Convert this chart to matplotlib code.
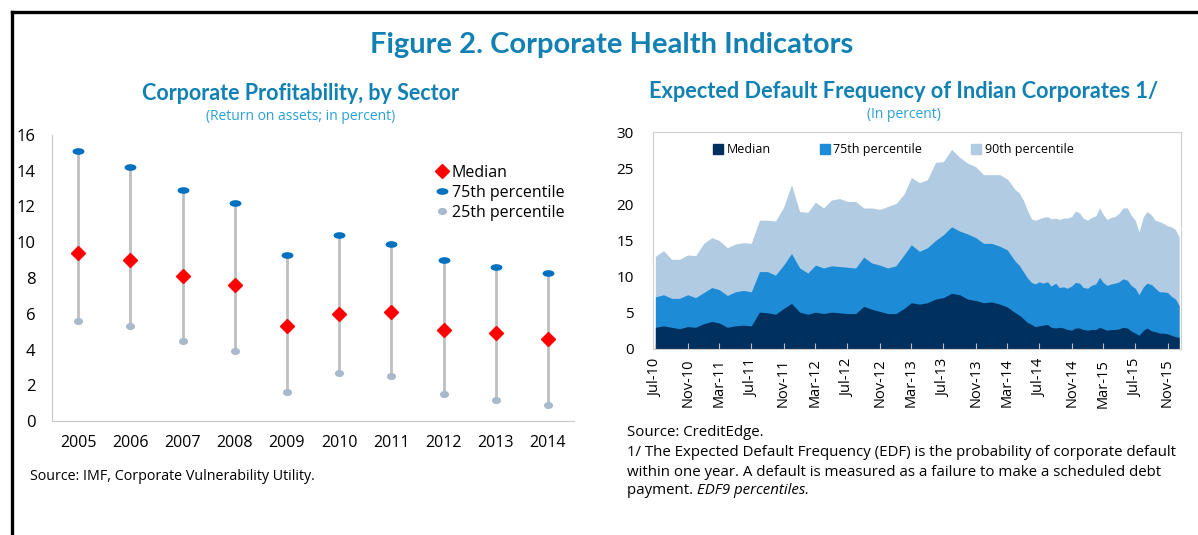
import matplotlib
matplotlib.use("Agg")
import matplotlib.pyplot as plt
import matplotlib.dates as mdates
from matplotlib.lines import Line2D
from matplotlib.patches import Patch
from matplotlib.path import Path
from matplotlib.transforms import Affine2D
import pandas as pd
import datetime as dt

plt.rcParams["font.family"] = ["Open Sans", "DejaVu Sans"]

# left panel: return on assets by year
years = ["2005", "2006", "2007", "2008", "2009", "2010", "2011", "2012", "2013", "2014"]
roa_median = [9.4, 9.0, 8.1, 7.6, 5.3, 6.0, 6.1, 5.1, 4.9, 4.6]
roa_p75 = [15.1, 14.2, 12.9, 12.2, 9.3, 10.4, 9.9, 9.0, 8.6, 8.3]
roa_p25 = [5.6, 5.3, 4.5, 3.9, 1.6, 2.7, 2.5, 1.5, 1.2, 0.9]

# right panel: EDF, monthly Jul-10 .. Apr-14, then twice a month to Dec-15
edf_monthly_dates = pd.date_range("2010-07-01", periods=46, freq="MS")
edf_monthly_median = [3.0, 3.2, 3.0, 2.8, 3.1, 3.0, 3.5, 3.8, 3.6, 3.0, 3.2, 3.3, 3.2,
                      5.1, 5.0, 4.8, 5.6, 6.3, 5.1, 4.8, 5.1, 4.9, 5.1, 5.0, 4.9, 4.9,
                      5.9, 5.5, 5.2, 4.9, 4.9, 5.6, 6.4, 6.2, 6.4, 6.9, 7.1, 7.7, 7.5,
                      6.9, 6.7, 6.4, 6.5, 6.2, 5.8, 5.0]
edf_monthly_p75 = [7.2, 7.5, 7.0, 7.0, 7.5, 7.1, 7.8, 8.5, 8.2, 7.4, 7.9, 8.1, 7.9,
                   10.7, 10.7, 10.2, 11.6, 13.2, 11.2, 10.5, 11.6, 11.2, 11.5, 11.4, 11.3, 11.2,
                   12.7, 11.9, 11.6, 11.2, 11.5, 13.0, 14.4, 13.5, 14.0, 15.0, 15.8, 16.9, 16.3,
                   15.9, 15.4, 14.6, 14.6, 14.2, 13.7, 12.1]
edf_monthly_p90 = [12.8, 13.6, 12.4, 12.4, 13.0, 12.9, 14.6, 15.4, 15.0, 14.0, 14.5, 14.7, 14.6,
                   17.8, 17.8, 17.7, 19.6, 22.7, 19.0, 18.9, 20.3, 19.5, 20.6, 20.8, 20.4, 20.4,
                   19.5, 19.5, 19.3, 19.7, 20.1, 21.4, 23.7, 23.0, 23.4, 25.8, 25.9, 27.6, 26.5,
                   25.7, 25.2, 24.1, 24.1, 24.1, 23.5, 22.0]

edf_semi_dates = pd.date_range("2014-04-15", periods=41, freq="SMS")
edf_semi_median = [4.7, 4.2, 3.7, 3.4, 3.1, 3.2, 3.3, 3.4, 3.0, 2.9, 3.0, 2.9, 2.7, 2.6,
                   2.9, 2.9, 2.7, 2.6, 2.7, 2.7, 3.0, 2.8, 2.6, 2.7, 2.7, 2.8, 3.0, 2.9,
                   2.5, 2.2, 1.9, 2.6, 2.9, 2.5, 2.4, 2.2, 2.2, 2.1, 1.9, 1.7, 1.6]
edf_semi_p75 = [11.6, 10.7, 9.9, 9.2, 9.0, 9.3, 9.1, 9.3, 8.7, 9.1, 8.5, 8.6, 8.4, 8.7,
                9.2, 9.1, 8.5, 8.4, 8.8, 9.0, 9.9, 9.2, 8.8, 9.0, 9.1, 9.3, 9.7, 9.5,
                8.8, 8.4, 7.5, 8.6, 9.1, 8.9, 8.4, 7.9, 7.9, 7.8, 7.3, 6.9, 6.0]
edf_semi_p90 = [21.6, 20.6, 19.3, 18.0, 17.8, 18.0, 18.2, 18.3, 18.0, 18.1, 17.9, 18.1, 18.1, 18.3,
                19.1, 18.8, 18.1, 17.8, 18.2, 18.4, 19.5, 18.6, 17.9, 18.2, 18.3, 18.8, 19.5, 19.5,
                18.5, 17.8, 16.2, 18.3, 19.0, 18.5, 17.8, 17.6, 17.4, 17.0, 16.9, 16.5, 15.5]

TITLE_BLUE = "#1181b4"
SUB_BLUE = "#2aa0d8"
W, H = 1198, 535


def px(x, y):
    return x / W, 1 - y / H


def ellipse(ratio):
    return Path.unit_circle().transformed(Affine2D().scale(1.0, ratio))


fig = plt.figure(figsize=(W / 100, H / 100), dpi=100)

# page frame (top and left rules)
fig.add_artist(Line2D([12 / W, 1], [1 - 12 / H, 1 - 12 / H], color="black", lw=2.4))
fig.add_artist(Line2D([12 / W, 12 / W], [0, 1 - 12 / H], color="black", lw=2.4))

fig.text(*px(612, 45), "Figure 2. Corporate Health Indicators", ha="center", va="center",
         fontsize=21, fontweight="bold", color=TITLE_BLUE, family=["Lato", "DejaVu Sans"])

# ---- left panel
fig.text(*px(301, 94), "Corporate Profitability, by Sector", ha="center", va="center",
         fontsize=15.5, fontweight="bold", color=TITLE_BLUE, family=["Lato", "DejaVu Sans"])
fig.text(*px(301, 117), "(Return on assets; in percent)", ha="center", va="center",
         fontsize=10, color=SUB_BLUE)

ax1 = fig.add_axes([52 / W, 1 - 421 / H, (574 - 52) / W, (421 - 135) / H])
xs = list(range(len(years)))
ax1.vlines(xs, roa_p25, roa_p75, color="#bfbfbf", lw=2, zorder=1)
ax1.plot(xs, roa_median, ls="none", marker="D", ms=7.5, color="#ff0000", zorder=3, label="Median")
ax1.plot(xs, roa_p75, ls="none", marker=ellipse(0.5), ms=7.5, color="#0070c0", zorder=3,
         label="75th percentile")
ax1.plot(xs, roa_p25, ls="none", marker=ellipse(0.75), ms=5.5, color="#a9b9cc", zorder=3,
         label="25th percentile")
ax1.set_xlim(-0.5, len(years) - 0.5)
ax1.set_ylim(0, 16)
ax1.set_yticks(range(0, 17, 2))
ax1.set_xticks(xs)
ax1.set_xticklabels(years)
for side in ["top", "right"]:
    ax1.spines[side].set_visible(False)
for side in ["left", "bottom"]:
    ax1.spines[side].set_color("#c8c8c8")
ax1.tick_params(axis="y", length=0, pad=12, labelsize=12)
ax1.tick_params(axis="x", length=0, pad=10, labelsize=11.5)
ax1.legend(loc="upper right", bbox_to_anchor=(1.0, 0.93), frameon=False, fontsize=11.5,
           handletextpad=0.1, handlelength=1.0, labelspacing=0.25, borderaxespad=0.2)

fig.text(*px(30, 476), "Source: IMF, Corporate Vulnerability Utility.", ha="left", va="center",
         fontsize=10.3)

# ---- right panel
fig.text(*px(904, 91), "Expected Default Frequency of Indian Corporates 1/", ha="center",
         va="center", fontsize=15.7, fontweight="bold", color=TITLE_BLUE,
         family=["Lato", "DejaVu Sans"])
fig.text(*px(904, 114), "(In percent)", ha="center", va="center", fontsize=10, color=SUB_BLUE)

dates = list(edf_monthly_dates) + list(edf_semi_dates)
med = edf_monthly_median + edf_semi_median
p75 = edf_monthly_p75 + edf_semi_p75
p90 = edf_monthly_p90 + edf_semi_p90

c_med, c_75, c_90 = "#00305e", "#1d8bd6", "#b1cbe3"
ax2 = fig.add_axes([653 / W, 1 - 349 / H, (1181 - 653) / W, (349 - 132) / H])
ax2.fill_between(dates, 0, p90, color=c_90, lw=0)
ax2.fill_between(dates, 0, p75, color=c_75, lw=0)
ax2.fill_between(dates, 0, med, color=c_med, lw=0)
ax2.set_xlim(dt.date(2010, 6, 22), dt.date(2015, 12, 22))
ax2.set_ylim(0, 30)
ax2.set_yticks(range(0, 31, 5))
ax2.xaxis.set_major_locator(mdates.MonthLocator(bymonth=[3, 7, 11]))
ax2.xaxis.set_major_formatter(mdates.DateFormatter("%b-%y"))
for s in ax2.spines.values():
    s.set_color("#d0d0d0")
ax2.tick_params(axis="x", direction="in", length=4, color="#bfbfbf", labelrotation=90,
                pad=7, labelsize=10.5)
ax2.tick_params(axis="y", length=0, pad=14, labelsize=11)
handles = [Patch(color=c_med), Patch(color=c_75), Patch(color=c_90)]
ax2.legend(handles, ["Median", "75th percentile", "90th percentile"], loc="upper center",
           bbox_to_anchor=(0.455, 1.0), ncol=3, frameon=False, fontsize=9, columnspacing=3.9,
           handlelength=0.8, handleheight=0.8, handletextpad=0.3)

note_x = 627
fs_note = 10.8
fig.text(*px(note_x, 433), "Source: CreditEdge.", ha="left", va="center", fontsize=fs_note)
fig.text(*px(note_x, 452),
         "1/ The Expected Default Frequency (EDF) is the probability of corporate default",
         ha="left", va="center", fontsize=fs_note)
fig.text(*px(note_x, 472),
         "within one year. A default is measured as a failure to make a scheduled debt",
         ha="left", va="center", fontsize=fs_note)
t = fig.text(*px(note_x, 491), "payment. ", ha="left", va="center", fontsize=fs_note)
fig.canvas.draw()
bb = t.get_window_extent()
fig.text(bb.x1 / W, 1 - 491 / H, "EDF9 percentiles.", ha="left", va="center", fontsize=fs_note,
         style="italic")

fig.savefig("out.png", dpi=100)
